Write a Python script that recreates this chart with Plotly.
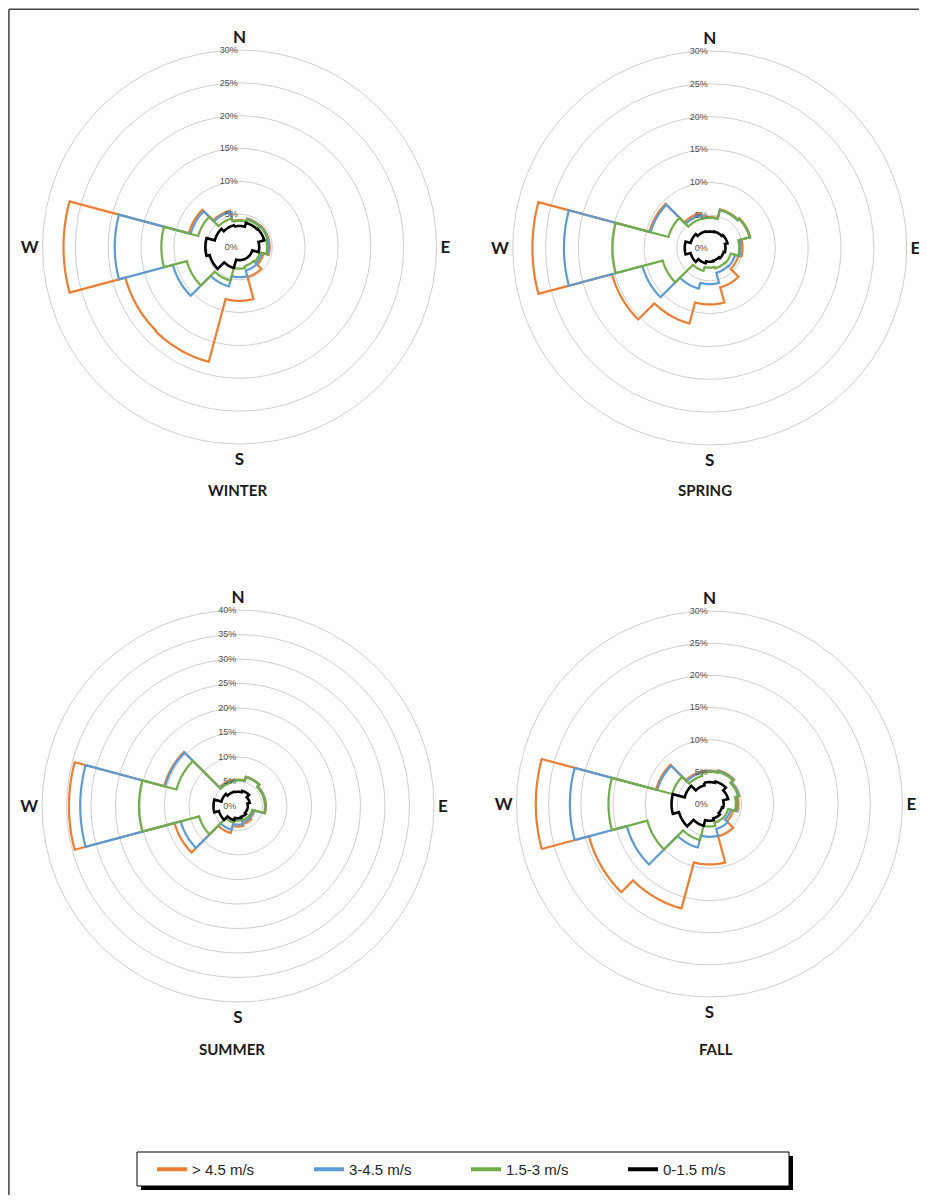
import plotly.graph_objects as go
import numpy as np

# ---------------- data (cumulative frequency, %) ----------------
directions = [0, 30, 60, 90, 120, 150, 180, 210, 240, 270, 300, 330]   # sector centres (deg, compass)
sector_width = 30
compass_vals = [0, 90, 180, 270]
compass_text = ["N", "E", "S", "W"]
speed_classes = ["> 4.5 m/s", "3-4.5 m/s", "1.5-3 m/s", "0-1.5 m/s"]
seasons = ["WINTER", "SPRING", "SUMMER", "FALL"]
radial_max = [30, 30, 40, 30]

winter_gt45 = [4.1, 4.5, 4.6, 4.6, 3.8, 4.7, 8.2, 18.1, 18.0, 26.8, 8.0, 5.7]
winter_3_45 = [4.0, 4.4, 4.5, 4.4, 3.5, 3.7, 4.6, 6.2, 10.5, 19.0, 7.7, 5.5]
winter_15_3 = [4.0, 4.3, 4.4, 4.2, 3.2, 3.0, 3.3, 5.3, 8.3, 11.9, 6.5, 4.5]
winter_0_15 = [3.2, 3.8, 3.9, 3.0, 2.0, 2.0, 2.0, 3.3, 4.7, 5.2, 3.9, 3.4]

spring_gt45 = [4.7, 6.1, 6.4, 5.0, 4.5, 6.2, 8.6, 11.9, 15.4, 27.0, 9.5, 5.5]
spring_3_45 = [4.6, 6.0, 6.3, 4.7, 4.0, 3.9, 5.5, 6.4, 10.6, 22.2, 9.3, 5.2]
spring_15_3 = [4.6, 6.0, 6.3, 4.5, 3.3, 3.2, 3.0, 3.6, 7.4, 14.8, 6.5, 4.6]
spring_0_15 = [2.5, 2.6, 2.8, 2.4, 2.2, 2.0, 2.1, 2.4, 3.0, 3.8, 3.0, 2.6]

summer_gt45 = [5.4, 6.2, 5.7, 5.7, 3.5, 3.8, 4.2, 5.7, 13.4, 34.5, 15.6, 5.4]
summer_3_45 = [5.3, 6.1, 5.6, 5.6, 3.3, 3.4, 3.8, 5.0, 12.1, 32.2, 15.4, 5.2]
summer_15_3 = [5.3, 6.1, 5.5, 5.5, 3.0, 3.0, 3.0, 3.5, 8.2, 20.2, 13.0, 5.0]
summer_0_15 = [2.9, 3.2, 2.5, 2.0, 2.0, 2.3, 2.5, 3.0, 4.0, 5.0, 3.5, 3.0]

fall_gt45 = [5.2, 5.4, 4.8, 4.5, 3.8, 5.2, 9.4, 16.8, 19.4, 27.0, 8.6, 5.2]
fall_3_45 = [5.1, 5.3, 4.7, 4.3, 3.4, 4.0, 5.1, 7.0, 13.3, 21.7, 8.4, 5.0]
fall_15_3 = [5.0, 5.2, 4.6, 4.1, 3.0, 3.0, 3.5, 5.8, 10.0, 15.7, 6.0, 4.5]
fall_0_15 = [3.4, 3.6, 3.0, 2.2, 2.0, 2.3, 2.6, 3.5, 4.9, 5.9, 4.0, 3.0]

season_data = [
    [winter_gt45, winter_3_45, winter_15_3, winter_0_15],
    [spring_gt45, spring_3_45, spring_15_3, spring_0_15],
    [summer_gt45, summer_3_45, summer_15_3, summer_0_15],
    [fall_gt45, fall_3_45, fall_15_3, fall_0_15],
]

# ---------------- styling ----------------
colors = ["#ED7D31", "#5B9BD5", "#70AD47", "#000000"]
widths = [2.2, 2.2, 2.2, 2.6]
OFF = 8                      # default body margin of the html page
W, H = 927 - 2 * OFF, 1203 - 2 * OFF


def fx(x):   # page pixel -> paper fraction
    return (x - OFF) / W


def fy(y):
    return 1 - (y - OFF) / H


# polar centres / radii in page pixels (top-left origin)
centres = [(239.5, 247, 197), (709.7, 248, 197), (238, 806, 196), (709.5, 804, 193)]
title_pos = [(237, 490), (705, 490), (232, 1049), (716, 1049)]


def step_outline(values):
    th, rr = [], []
    for c, v in zip(directions, values):
        for a in np.linspace(c - sector_width / 2, c + sector_width / 2, 31):
            th.append(a)
            rr.append(v)
    th.append(th[0])
    rr.append(rr[0])
    return th, rr


fig = go.Figure()
layout = {}
for k, series in enumerate(season_data):
    pid = "polar" if k == 0 else f"polar{k + 1}"
    for j, vals in enumerate(series):
        th, rr = step_outline(vals)
        fig.add_trace(go.Scatterpolar(
            r=rr, theta=th, mode="lines", subplot=pid,
            line=dict(color=colors[j], width=widths[j]),
            name=speed_classes[j], showlegend=False, hoverinfo="skip"))
    cx, cy, R = centres[k]
    layout[pid] = dict(
        domain=dict(x=[fx(cx - R), fx(cx + R)], y=[fy(cy + R), fy(cy - R)]),
        bgcolor="white",
        radialaxis=dict(range=[0, radial_max[k]], dtick=5, ticksuffix="%", showline=False,
                        ticks="", angle=90, tickangle=90, side="counterclockwise",
                        gridcolor="#CFCFCF", gridwidth=1,
                        tickfont=dict(size=9, color="#505050", family="Liberation Sans Narrow, Liberation Sans")),
        angularaxis=dict(rotation=90, direction="clockwise", tickmode="array",
                         tickvals=compass_vals, ticktext=[f"<b>{t}</b>" for t in compass_text],
                         showgrid=False, ticks="", showline=True, linecolor="#CFCFCF", linewidth=1,
                         tickfont=dict(size=17, color="#1a1a1a", family="Lato")),
    )

# legend-only entries (thicker key lines, as in the reference legend)
for j in range(4):
    fig.add_trace(go.Scatterpolar(r=[None], theta=[None], mode="lines", subplot="polar",
                                  line=dict(color=colors[j], width=4), name=speed_classes[j],
                                  showlegend=True, hoverinfo="skip"))

fig.update_layout(**layout)

annotations = []
for k, (tx, ty) in enumerate(title_pos):
    annotations.append(dict(x=fx(tx), y=fy(ty), xref="paper", yref="paper", showarrow=False,
                            text=f"<b>{seasons[k]}</b>", font=dict(size=15, color="#1a1a1a", family="Lato"),
                            xanchor="center", yanchor="middle"))

# legend frame with drop shadow
LB = (137, 1152, 789, 1186)
shapes = [
    dict(type="line", xref="paper", yref="paper", x0=0.001, x1=1, y0=0.999, y1=0.999,
         line=dict(color="#404040", width=1.5)),
    dict(type="line", xref="paper", yref="paper", x0=0.001, x1=0.001, y0=0, y1=0.999,
         line=dict(color="#404040", width=1.5)),
    dict(type="rect", xref="paper", yref="paper", x0=fx(LB[0] + 4), x1=fx(LB[2] + 4),
         y0=fy(LB[3] + 4), y1=fy(LB[1] + 4), fillcolor="black", line=dict(width=0)),
    dict(type="rect", xref="paper", yref="paper", x0=fx(LB[0]), x1=fx(LB[2]),
         y0=fy(LB[3]), y1=fy(LB[1]), fillcolor="white", line=dict(color="black", width=1)),
]

fig.update_layout(
    width=W, height=H, margin=dict(l=0, r=0, t=0, b=0, autoexpand=False),
    paper_bgcolor="white", plot_bgcolor="white",
    annotations=annotations, shapes=shapes,
    legend=dict(orientation="h", x=fx(152), y=fy(1153), xanchor="left", yanchor="top",
                borderwidth=0, bgcolor="rgba(0,0,0,0)",
                entrywidth=112, entrywidthmode="pixels",
                font=dict(size=15, color="#262626", family="Liberation Sans Narrow, Liberation Sans")),
)

fig.write_html("out.html")
